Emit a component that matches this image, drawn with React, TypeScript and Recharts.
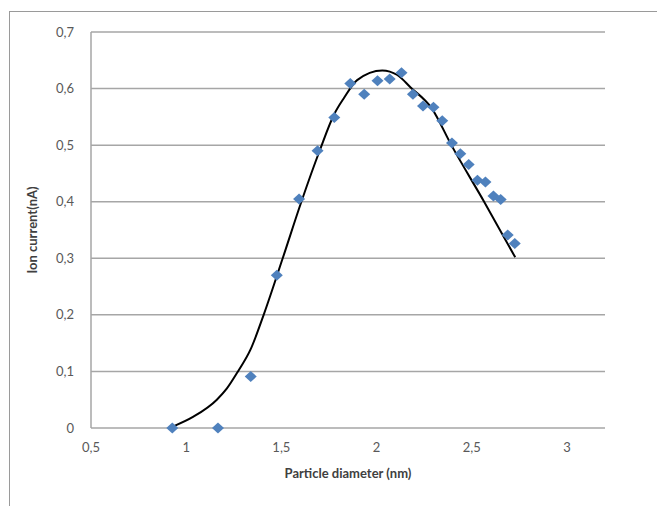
import React from "react";
import { ComposedChart, Line, Scatter, XAxis, YAxis, CartesianGrid, Label } from "recharts";

const diameters = [0.927, 1.167, 1.339, 1.476, 1.593, 1.69, 1.778, 1.862, 1.935, 2.005, 2.069, 2.131, 2.191, 2.244, 2.299, 2.345, 2.396, 2.44, 2.484, 2.53, 2.572, 2.614, 2.652, 2.689, 2.726];
const currents = [0.0, 0.0, 0.091, 0.27, 0.405, 0.49, 0.549, 0.609, 0.59, 0.614, 0.617, 0.628, 0.59, 0.569, 0.567, 0.543, 0.504, 0.485, 0.466, 0.438, 0.435, 0.41, 0.404, 0.341, 0.326];

const fitX = [0.933, 1.038, 1.161, 1.214, 1.272, 1.337, 1.407, 1.507, 1.605, 1.702, 1.778, 1.828, 1.898, 2.03, 2.109, 2.179, 2.29, 2.393, 2.565, 2.728];
const fitY = [0.003, 0.02, 0.05, 0.07, 0.1, 0.138, 0.2, 0.3, 0.4, 0.491, 0.555, 0.583, 0.615, 0.632, 0.624, 0.602, 0.565, 0.5, 0.4, 0.302];

const xTicks = [0.5, 1, 1.5, 2, 2.5, 3];
const yTicks = [0, 0.1, 0.2, 0.3, 0.4, 0.5, 0.6, 0.7];

const points = diameters.map((x, i) => ({ x, y: currents[i] }));
const curve = fitX.map((x, i) => ({ x, y: fitY[i] }));

const fmt = (v: number) => String(v).replace(".", ",");
const FONT = "Lato, 'Open Sans', sans-serif";
const tickStyle = { fill: "#595959", fontSize: 13, fontFamily: FONT };

const Diamond = (props: any) => {
  const { cx, cy } = props;
  if (cx == null || cy == null) return null;
  const w = 6, h = 5.5;
  return (
    <polygon
      points={`${cx},${cy - h} ${cx + w},${cy} ${cx},${cy + h} ${cx - w},${cy}`}
      fill="#4f81bd"
    />
  );
};

export default function App() {
  return (
    <div style={{ position: "fixed", left: 0, top: 0, width: 657, height: 506, overflow: "hidden", background: "#fff" }}>
      <div style={{ position: "absolute", left: 9, top: 11, width: 700, height: 600, borderLeft: "1px solid #9a9a9a", borderTop: "1px solid #9a9a9a" }} />
      <div style={{ position: "absolute", left: 0, top: 0 }}>
        <ComposedChart width={657} height={506} margin={{ top: 32, right: 52, left: 0, bottom: 0 }}>
          <CartesianGrid vertical={false} stroke="#a6a6a6" strokeWidth={1.5} />
          <XAxis
            type="number"
            dataKey="x"
            domain={[0.5, 3.2]}
            ticks={xTicks}
            tickFormatter={fmt}
            axisLine={false}
            tickLine={false}
            tickSize={0}
            tickMargin={15}
            height={78}
            tick={tickStyle}
          >
            <Label
              content={() => (
                <text x={348} y={478} textAnchor="middle" fontFamily={FONT} fontWeight="bold" fontSize={13} fill="#404040">
                  Particle diameter (nm)
                </text>
              )}
            />
          </XAxis>
          <YAxis
            type="number"
            domain={[0, 0.7]}
            ticks={yTicks}
            tickFormatter={fmt}
            width={91}
            axisLine={{ stroke: "#a6a6a6", strokeWidth: 1.5 }}
            tickLine={false}
            tickSize={0}
            tickMargin={17}
            tick={tickStyle}
          >
            <Label
              content={() => (
                <text x={37} y={230} transform="rotate(-90 37 230)" textAnchor="middle" fontFamily={FONT} fontWeight="bold" fontSize={13} fill="#404040">
                  Ion current(nA)
                </text>
              )}
            />
          </YAxis>
          <Line data={curve} dataKey="y" type="monotone" stroke="#000" strokeWidth={2} dot={false} isAnimationActive={false} />
          <Scatter data={points} dataKey="y" shape={Diamond} isAnimationActive={false} />
        </ComposedChart>
      </div>
    </div>
  );
}
